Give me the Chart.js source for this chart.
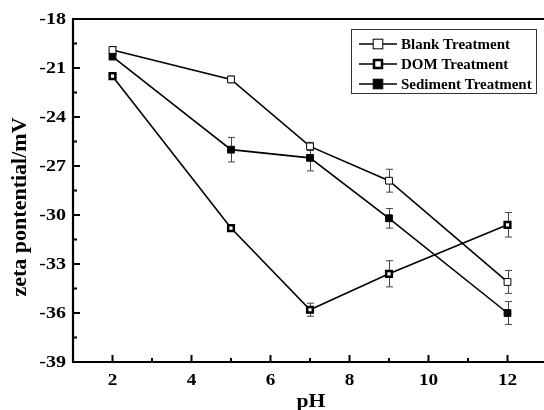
<!DOCTYPE html>
<html><head><meta charset="utf-8">
<script src="https://cdn.jsdelivr.net/npm/chart.js@4"></script>
<style>html,body{margin:0;padding:0;background:#fff;overflow:hidden}#wrap{width:544px;height:410px;position:relative;overflow:hidden}</style>
</head><body><div id="wrap"><canvas id="c" width="548" height="410"></canvas></div>
<script>
const seriesNames = ['Blank Treatment','DOM Treatment','Sediment Treatment'];
const pH = [2,5,7,9,12];
const blank = [-19.9,-21.7,-25.8,-27.9,-34.1];
const blankErr = [0.2,0.2,0.25,0.7,0.7];
const dom = [-21.5,-30.8,-35.8,-33.6,-30.6];
const domErr = [0.1,0.1,0.4,0.8,0.75];
const sed = [-20.3,-26.0,-26.5,-30.2,-36.0];
const sedErr = [0.15,0.75,0.8,0.6,0.7];
const xTicks = [2,4,6,8,10,12];
const xMinor = [3,5,7,9,11];
const yTicks = [-18,-21,-24,-27,-30,-33,-36,-39];
const yMinor = [-19.5,-22.5,-25.5,-28.5,-31.5,-34.5,-37.5];
const xTitle = 'pH';
const yTitle = 'zeta pontential/mV';
const errs = [blankErr, domErr, sedErr];

const FONT = '"Liberation Serif","Times New Roman",serif';
const styles = [
  {bg:'#fff', bw:1},
  {bg:'#fff', bw:2.5},
  {bg:'#000', bw:1}
];
function mk(name, vals, i){
  return {label:name, data: pH.map((x,j)=>({x:x,y:vals[j]})), borderColor:'#000', borderWidth:1.6,
    pointStyle:'rect', pointRadius: i===1?4:4.8, pointBackgroundColor:styles[i].bg, pointBorderColor:'#000',
    pointBorderWidth:styles[i].bw, pointHoverRadius:5, tension:0, fill:false, clip:false};
}
function stretchText(ctx, txt, x, y, sx, align){
  ctx.save(); ctx.translate(x,y); ctx.scale(sx,1);
  ctx.textAlign=align; ctx.fillText(txt,0,0); ctx.restore();
}

const errPlugin = {
  id:'err',
  beforeDatasetsDraw(chart){
    const ctx=chart.ctx, ys=chart.scales.y, xs=chart.scales.x;
    ctx.save(); ctx.strokeStyle='#444'; ctx.lineWidth=1;
    chart.data.datasets.forEach((ds,i)=>{
      ds.data.forEach((p,j)=>{
        const e=errs[i][j]; const x=Math.round(xs.getPixelForValue(p.x))+0.5;
        const y1=ys.getPixelForValue(p.y+e), y2=ys.getPixelForValue(p.y-e);
        ctx.beginPath(); ctx.moveTo(x,y1); ctx.lineTo(x,y2);
        ctx.moveTo(x-3.5,y1); ctx.lineTo(x+3.5,y1);
        ctx.moveTo(x-3.5,y2); ctx.lineTo(x+3.5,y2); ctx.stroke();
      });
    });
    ctx.restore();
  }
};
const framePlugin = {
  id:'frame',
  afterDraw(chart){
    const ctx=chart.ctx, a=chart.chartArea, xs=chart.scales.x, ys=chart.scales.y;
    ctx.save(); ctx.strokeStyle='#000';
    ctx.lineWidth=2.2;
    ctx.beginPath();
    ctx.moveTo(a.left,a.top); ctx.lineTo(a.right,a.top); ctx.lineTo(a.right,a.bottom);
    ctx.lineTo(a.left,a.bottom); ctx.closePath(); ctx.stroke();
    ctx.lineWidth=2;
    ctx.beginPath();
    xTicks.forEach(v=>{const x=xs.getPixelForValue(v); ctx.moveTo(x,a.bottom); ctx.lineTo(x,a.bottom-7);});
    xMinor.forEach(v=>{const x=xs.getPixelForValue(v); ctx.moveTo(x,a.bottom); ctx.lineTo(x,a.bottom-4);});
    yTicks.forEach(v=>{const y=ys.getPixelForValue(v); ctx.moveTo(a.left,y); ctx.lineTo(a.left+7,y);});
    yMinor.forEach(v=>{const y=ys.getPixelForValue(v); ctx.moveTo(a.left,y); ctx.lineTo(a.left+4,y);});
    ctx.stroke();
    // tick labels
    ctx.fillStyle='#000';
    ctx.font='bold 16px '+FONT; ctx.textBaseline='middle';
    xTicks.forEach(v=>stretchText(ctx,String(v),xs.getPixelForValue(v),a.bottom+19,1.2,'center'));
    yTicks.forEach(v=>stretchText(ctx,String(v),a.left-7,ys.getPixelForValue(v)+1,1.25,'right'));
    // titles
    ctx.font='bold 18px '+FONT;
    stretchText(ctx,xTitle,311,a.bottom+40,1.2,'center');
    ctx.save(); ctx.translate(20,207); ctx.rotate(-Math.PI/2);
    ctx.font='bold 22px '+FONT; ctx.textAlign='center'; ctx.fillText(yTitle,0,0); ctx.restore();
    // legend
    const lx=351, ly=29, lw=185, lh=64;
    ctx.lineWidth=1; ctx.strokeStyle='#333';
    ctx.strokeRect(lx+0.5,ly+0.5,lw,lh);
    ctx.font='bold 15px '+FONT; ctx.fillStyle='#000'; ctx.textBaseline='middle'; ctx.textAlign='left';
    const rowsY=[44,64,84];
    seriesNames.forEach((n,i)=>{
      const y=rowsY[i];
      ctx.strokeStyle='#000'; ctx.lineWidth=1.6;
      ctx.beginPath(); ctx.moveTo(359,y); ctx.lineTo(397,y); ctx.stroke();
      const r = i===1?4:4.8;
      ctx.fillStyle=styles[i].bg; ctx.fillRect(378-r,y-r,2*r,2*r);
      ctx.lineWidth=styles[i].bw; ctx.strokeRect(378-r,y-r,2*r,2*r);
      ctx.fillStyle='#000';
      ctx.fillText(n,401,y+1);
    });
    ctx.restore();
  }
};

new Chart(document.getElementById('c'),{
  type:'line',
  data:{datasets:[mk(seriesNames[0],blank,0),mk(seriesNames[1],dom,1),mk(seriesNames[2],sed,2)]},
  options:{
    responsive:false, animation:false, devicePixelRatio:1,
    layout:{autoPadding:false, padding:{top:19,right:1,left:0,bottom:0}},
    plugins:{legend:{display:false},tooltip:{enabled:false}},
    scales:{
      x:{type:'linear',min:1,max:13,
        afterFit(s){s.height=48;},
        grid:{display:false,drawTicks:false},
        border:{display:false},
        ticks:{display:false}
      },
      y:{type:'linear',min:-39,max:-18,
        afterFit(s){s.width=73;},
        grid:{display:false,drawTicks:false},
        border:{display:false},
        ticks:{display:false}
      }
    }
  },
  plugins:[errPlugin,framePlugin]
});
</script></body></html>
